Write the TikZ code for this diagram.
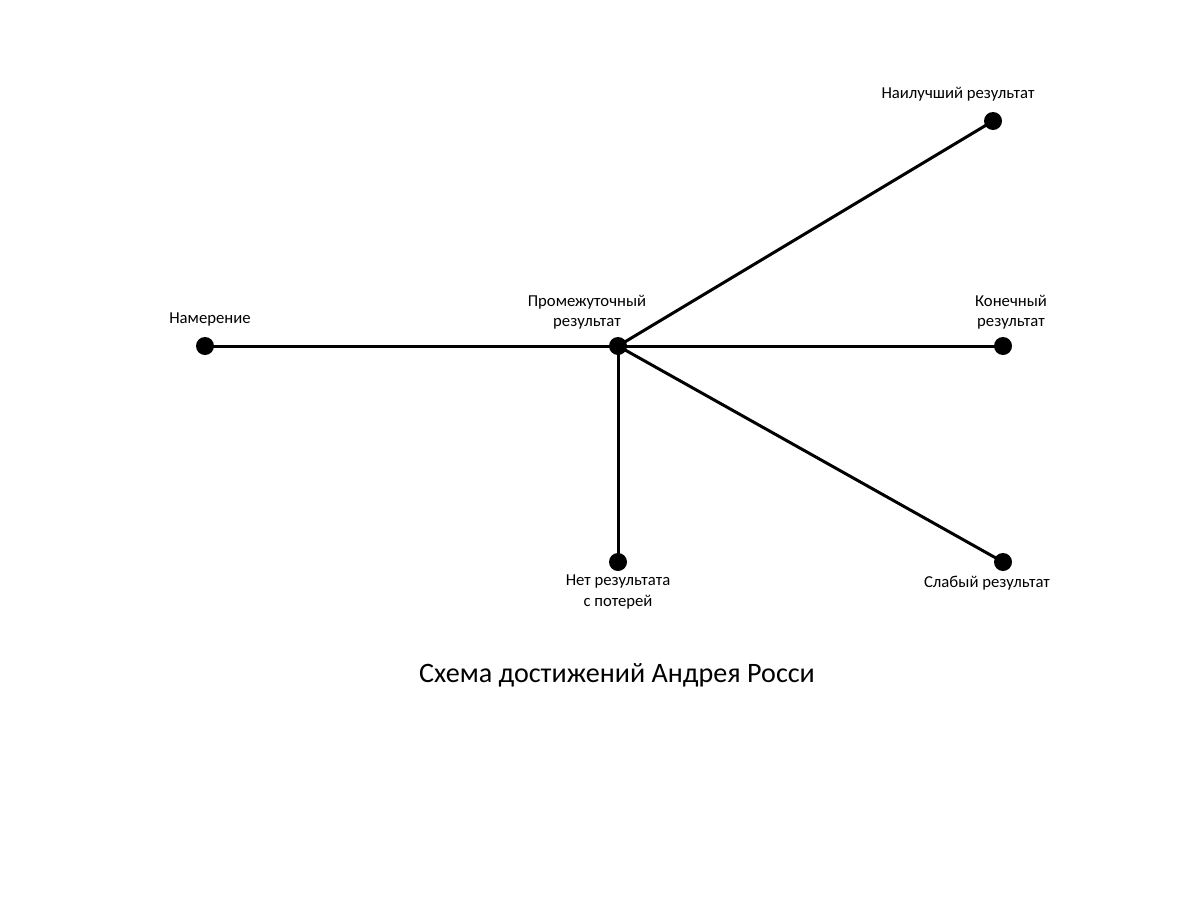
\documentclass[tikz,border=0pt]{standalone}
\usepackage{fontspec}
\setmainfont{Carlito}
\usetikzlibrary{positioning}

\begin{document}
\begin{tikzpicture}[x=0.02cm,y=-0.02cm,
    dot/.style={circle,fill=black,inner sep=0pt,minimum size=0.36cm},
    lbl/.style={font=\fontsize{9.5}{11.5}\selectfont,align=center},
    edge/.style={line width=1.7pt}]
  \useasboundingbox (0,0) rectangle (1200,900);
  % points
  \node[dot] (intent) at (205,346) {};
  \node[dot] (mid) at (618,346) {};
  \node[dot] (best) at (993,121) {};
  \node[dot] (final) at (1003,346) {};
  \node[dot] (weak) at (1003,562) {};
  \node[dot] (none) at (618,562) {};
  % lines
  \draw[edge] (intent.center) -- (mid.center);
  \draw[edge] (mid.center) -- (best.center);
  \draw[edge] (mid.center) -- (final.center);
  \draw[edge] (mid.center) -- (weak.center);
  \draw[edge] (mid.center) -- (none.center);
  % labels
  \node[lbl] (intentlbl) at (210,319) {Намерение};
  \node[lbl] (midlbl) at (587,312) {Промежуточный\\результат};
  \node[lbl] (finallbl) at (1011,312) {Конечный\\результат};
  \node[lbl] (bestlbl) at (958,94) {Наилучший результат};
  \node[lbl] (nonelbl) at (618,592) {Нет результата\\с потерей};
  \node[lbl] (weaklbl) at (987,583) {Слабый результат};
  \node[font=\fontsize{16}{19}\selectfont] (title) at (617,675) {Схема достижений Андрея Росси};
\end{tikzpicture}
\end{document}
